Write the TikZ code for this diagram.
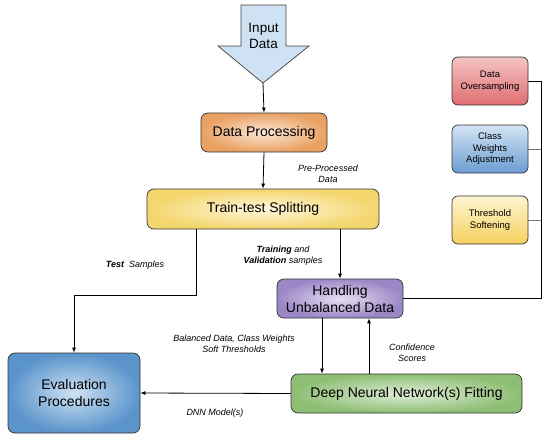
\documentclass[tikz,border=0pt]{standalone}
\usepackage{fontspec}
\setmainfont{Liberation Sans}
\usetikzlibrary{arrows.meta}
\definecolor{inblue}{HTML}{CFE2F3}
\definecolor{orgout}{HTML}{E9A163}
\definecolor{orgin}{HTML}{FCE8D6}
\definecolor{yelout}{HTML}{F4D66E}
\definecolor{yelin}{HTML}{FFF7DC}
\definecolor{purout}{HTML}{9C87C6}
\definecolor{purin}{HTML}{E6DEF2}
\definecolor{grnout}{HTML}{8EBE74}
\definecolor{grnin}{HTML}{DFEDD8}
\definecolor{bluout}{HTML}{5A94CB}
\definecolor{bluin}{HTML}{CFE2F3}
\definecolor{redtop}{HTML}{F4C4C4}
\definecolor{redbot}{HTML}{DF6E70}
\definecolor{cwtop}{HTML}{D3E4F4}
\definecolor{cwbot}{HTML}{6C9DD2}
\definecolor{thtop}{HTML}{FFF6D2}
\definecolor{thbot}{HTML}{F5D05E}
\tikzset{
  x=1pt, y=-1pt,
  mainbox/.style={draw=black!80, line width=0.7pt, rounded corners=7pt, align=center,
    font=\fontsize{14}{16}\selectfont, inner sep=0pt},
  sidebox/.style={draw=black!80, line width=0.7pt, rounded corners=6pt, align=center,
    font=\fontsize{9.5}{11.5}\selectfont, minimum width=76pt, minimum height=48pt, inner sep=0pt},
  lbl/.style={font=\fontsize{9}{11}\selectfont\itshape, align=center, inner sep=0pt},
  arr/.style={draw=black, line width=0.8pt, -{Latex[length=5pt,width=4pt]}},
  ln/.style={draw=black, line width=0.8pt},
  gln/.style={draw=black!55, line width=0.8pt},
}
\begin{document}
\begin{tikzpicture}
\useasboundingbox (0,0) rectangle (543,439);
% input arrow
\draw[fill=inblue, draw=black!75, line width=0.7pt] (241,5) -- (286,5) -- (286,46) -- (309,46) -- (263,83) -- (218,46) -- (241,46) -- cycle;
\node[align=center, font=\fontsize{13.5}{16}\selectfont, inner sep=0pt] (inp) at (263.5,36) {Input\\Data};
\coordinate (tip) at (263,83);
% main boxes
\node[mainbox, minimum width=126pt, minimum height=39pt, inner color=orgin, outer color=orgout] (dp) at (264,132.5) {Data Processing};
\node[mainbox, minimum width=232pt, minimum height=40pt, inner color=yelin, outer color=yelout] (tts) at (263,209) {Train-test Splitting};
\node[mainbox, minimum width=126pt, minimum height=39pt, inner color=purin, outer color=purout, font=\fontsize{14}{17}\selectfont] (hud) at (340,298.5) {Handling\\Unbalanced Data};
\node[mainbox, minimum width=231pt, minimum height=39pt, inner color=grnin, outer color=grnout] (dnn) at (406.5,393.5) {Deep Neural Network(s) Fitting};
\node[mainbox, minimum width=132pt, minimum height=80pt, inner color=bluin, outer color=bluout, font=\fontsize{14}{17}\selectfont] (ev) at (74,393) {Evaluation\\Procedures};
% side boxes
\node[sidebox, top color=redtop, bottom color=redbot] (os) at (490,81) {Data\\Oversampling};
\node[sidebox, top color=cwtop, bottom color=cwbot] (cw) at (490,149) {Class\\Weights\\Adjustment};
\node[sidebox, top color=thtop, bottom color=thbot] (th) at (490,220) {Threshold\\Softening};
% coordinates
\coordinate (r0) at (541,298.5);
\coordinate (r1) at (541,81);
\coordinate (r2) at (541,149);
\coordinate (r3) at (541,220);
\coordinate (tl) at (196,229);
\coordinate (tlb) at (196,295);
\coordinate (evt) at (74,295);
\coordinate (tr) at (340,229);
% connectors
\draw[arr] (tip) -- (dp.north);
\draw[arr] (dp.south) -- (tts.north);
\draw[ln] (tl) -- (tlb) -- (evt);
\draw[arr] (evt) -- (ev.north);
\draw[arr] (tr) -- (hud.north);
\draw[ln] (hud.east) -- (r0) -- (r1);
\draw[ln] (os.east) -- (r1);
\draw[gln] (cw.east) -- (r2);
\draw[gln] (th.east) -- (r3);
\draw[arr] (hud.south -| 322,0) -- (dnn.north -| 322,0);
\draw[arr] (dnn.north -| 369,0) -- (hud.south -| 369,0);
\draw[arr] (dnn.west) -- (ev.east);
% labels
\node[lbl] (l1) at (328,174) {Pre-Processed\\Data};
\node[lbl] (l2) at (135,265) {\textbf{Test}\ \ Samples};
\node[lbl] (l3) at (283,255.5) {\textbf{Training} and\\\textbf{Validation} samples};
\node[lbl] (l4) at (234,344) {Balanced Data, Class Weights\\Soft Thresholds};
\node[lbl] (l5) at (412,352.5) {Confidence\\Scores};
\node[lbl] (l6) at (215,413) {DNN Model(s)};
\end{tikzpicture}
\end{document}
